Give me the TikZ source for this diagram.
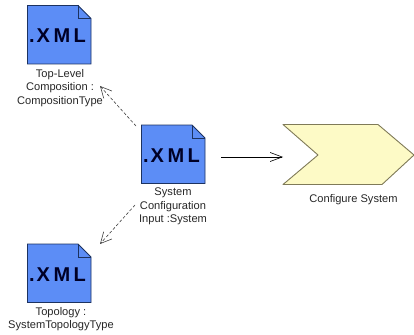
\documentclass[tikz,border=0pt]{standalone}
\usepackage{fontspec}
\setmainfont{Liberation Sans}
\usetikzlibrary{arrows.meta}
\definecolor{docblue}{HTML}{5C8DF6}
\definecolor{docline}{HTML}{1C3260}
\definecolor{chevfill}{HTML}{FDFAC6}
\definecolor{chevline}{HTML}{7F7A58}
\definecolor{labelgrey}{HTML}{262626}
\tikzset{
  x=1pt,y=-1pt,
  docbox/.style={draw=none,minimum width=63.5pt,minimum height=58.5pt,inner sep=0pt,
    font=\fontsize{20}{20}\selectfont\bfseries,text=black!85!blue},
  doclabel/.style={font=\fontsize{11.1}{13.6}\selectfont,align=center,text=labelgrey,inner sep=0pt},
  depend/.style={draw=black!75,densely dashed,line width=.6pt,-{Straight Barb[length=11pt,width=11pt,line width=.6pt]}},
  flow/.style={draw=black,line width=.7pt,-{Straight Barb[length=12pt,width=9pt,line width=.6pt]}},
  chevron/.style={draw=chevline,fill=chevfill,line width=.9pt,line join=round},
}
\newcommand{\docshape}[2]{%
  \fill[docblue,draw=docline,line width=.9pt,line join=miter]
    (#1,#2) -- ++(50.5,0) -- ++(13,13) -- ++(0,45.5) -- ++(-63.5,0) -- cycle;
  \draw[docline,line width=.9pt] (#1+50.5,#2) -- ++(0,13) -- ++(13,0);
}
\newcommand{\xmlmark}{.\hspace{2pt}X\hspace{3.5pt}M\hspace{3.5pt}L}
\begin{document}
\begin{tikzpicture}
\useasboundingbox (0,0) rectangle (414,334);
\docshape{27.5}{5.5}
\docshape{141.5}{125}
\docshape{27.5}{244}
\node[docbox] (top) at (57.5,36) {\xmlmark};
\node[docbox] (sys) at (171.5,155.5) {\xmlmark};
\node[docbox] (topo) at (57.5,274.5) {\xmlmark};
\node[doclabel] (toplabel) at (60,88) {Top-Level\\Composition :\\CompositionType};
\node[doclabel] (syslabel) at (173,206.5) {System\\Configuration\\Input :System};
\node[doclabel] (topolabel) at (61,319) {Topology :\\SystemTopologyType};
\coordinate (chevtip) at (283,157);
\draw[chevron] (283,124.5) -- (378,124.5) -- (414,155) -- (382,184.5) -- (283,184.5) -- (318,155) -- cycle;
\node[doclabel] (chevlabel) at (353.5,199.5) {Configure System};
\coordinate (a1) at (136,126);
\coordinate (a2) at (100,86);
\coordinate (b1) at (135,205);
\coordinate (b2) at (100,244);
\coordinate (c1) at (221,157);
\draw[depend] (a1) -- (a2);
\draw[depend] (b1) -- (b2);
\draw[flow] (c1) -- (chevtip);
\end{tikzpicture}
\end{document}
